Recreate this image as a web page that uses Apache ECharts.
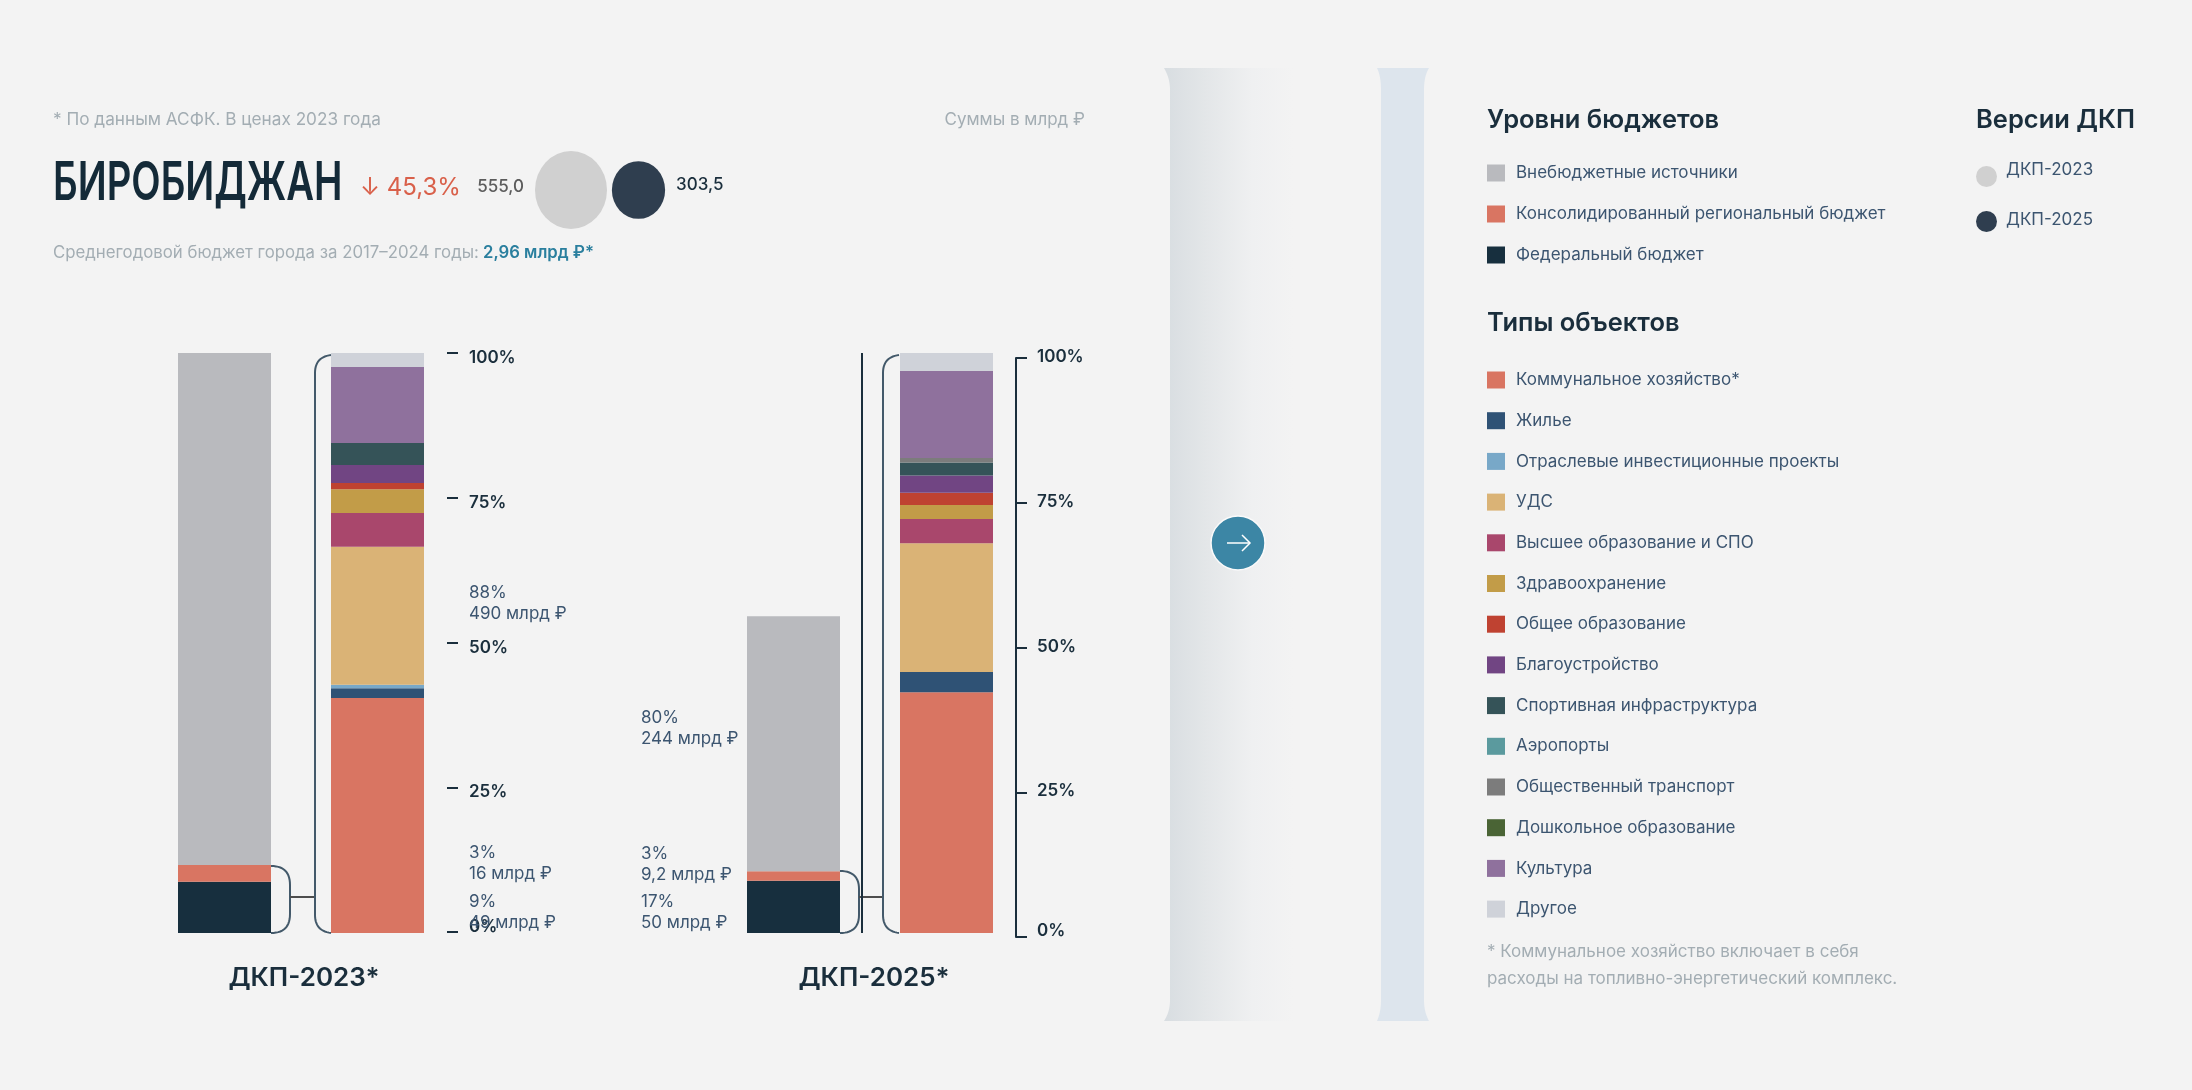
<!DOCTYPE html>
<html><head><meta charset="utf-8">
<script src="https://cdn.jsdelivr.net/npm/echarts@6/dist/echarts.min.js"></script>
<style>html,body{margin:0;padding:0;background:#f3f3f3}#c{width:2192px;height:1090px}</style></head>
<body><div id="c"></div><script>
const categories = ['Уровни бюджетов', 'Типы объектов'];
const levelNames = ['Федеральный бюджет', 'Консолидированный региональный бюджет', 'Внебюджетные источники'];
const levelColors = ['#172f3e', '#d97562', '#b9babe'];
const levels2023 = [49, 16, 490];
const levels2025 = [50, 9.2, 244];
const levelPct2023 = ['9%', '3%', '88%'];
const levelPct2025 = ['17%', '3%', '80%'];
const levelAmt2023 = ['49 млрд ₽', '16 млрд ₽', '490 млрд ₽'];
const levelAmt2025 = ['50 млрд ₽', '9,2 млрд ₽', '244 млрд ₽'];
const typeNames = ['Коммунальное хозяйство*', 'Жилье', 'Отраслевые инвестиционные проекты', 'УДС', 'Высшее образование и СПО', 'Здравоохранение', 'Общее образование', 'Благоустройство', 'Спортивная инфраструктура', 'Аэропорты', 'Общественный транспорт', 'Дошкольное образование', 'Культура', 'Другое'];
const typeColors = ['#d97562', '#2f5275', '#78a8c8', '#dab376', '#a9476c', '#c29c48', '#bf4231', '#714583', '#355358', '#5b9a9e', '#7c7c7c', '#4a6435', '#8f719d', '#cfd2d9'];
const types2023 = [40.5, 1.7, 0.6, 23.8, 5.8, 4.1, 1.1, 3.1, 3.8, 0, 0, 0, 13.1, 2.4];
const types2025 = [41.5, 3.5, 0, 22.2, 4.2, 2.4, 2.1, 3.0, 2.2, 0, 0.8, 0, 15.0, 3.1];
const versionNames = ['ДКП-2023', 'ДКП-2025'];
const versionTotals = [555.0, 303.5];
const versionColors = ['#d0d0d0', '#2f3e4f'];
const versionLabels = ['555,0', '303,5'];

const F = 'Inter, Roboto, sans-serif';
const DARK = '#1a2e3c', GREY = '#a3adb3', LBL = '#3c5570', BG = '#f3f3f3';

const levelLabelOffset = [[0, 5], [0, -10], [0, -6]];
const levelLabelOffset25 = [[0, 6], [0, -12], [0, -15]];
function levelSeries(vals, pct, amt, idx, distance, pos, offs) {
  return vals.map((v, i) => ({
    name: levelNames[i], type: 'bar', stack: 'levels' + idx, xAxisIndex: idx, yAxisIndex: idx * 2,
    barWidth: 93, barGap: '-100%', itemStyle: { color: levelColors[i] }, silent: true,
    data: [v, '-'],
    label: { show: true, position: pos, distance, align: 'left', offset: offs[i], color: LBL,
      fontFamily: F, fontSize: 17, lineHeight: 21, formatter: () => pct[i] + '\n' + amt[i] }
  }));
}
function typeSeries(vals, idx) {
  return vals.map((v, i) => ({
    name: typeNames[i], type: 'bar', stack: 'types' + idx, xAxisIndex: idx, yAxisIndex: idx * 2 + 1,
    barWidth: 93, barGap: '-100%', itemStyle: { color: typeColors[i] }, silent: true, data: ['-', v]
  }));
}
const hiddenX = (gridIndex, data) => ({ type: 'category', gridIndex, data: data || categories, show: false });
const barY = (gridIndex, max) => ({ type: 'value', gridIndex, min: 0, max, show: false });
const tickFont = { color: DARK, fontFamily: F, fontWeight: 600, fontSize: 17 };
const pctAxis = (gridIndex, line, labelExtra) => ({
  type: 'value', gridIndex, position: 'right', min: 0, max: 100, interval: 25, splitLine: { show: false },
  axisLine: { show: line, lineStyle: { color: DARK, width: 2 } },
  axisTick: { show: true, length: 11, lineStyle: { color: DARK, width: 2 } },
  axisLabel: Object.assign({}, tickFont, labelExtra)
});

const scatter = versionNames.map((n, i) => {
  const k = Math.sqrt(versionTotals[i] / versionTotals[0]);
  return {
    name: n, type: 'scatter', xAxisIndex: 4, yAxisIndex: 6, silent: true,
    symbol: 'circle', symbolSize: [72 * k, 78 * k], itemStyle: { color: versionColors[i], opacity: 1 },
    data: [[n, 0]],
    label: { show: true, position: i ? 'right' : 'left', distance: 11, offset: i ? [0, -5] : [0, -3], color: i ? DARK : '#5c5c5c',
      fontFamily: F, fontWeight: 500, fontSize: 17, formatter: () => versionLabels[i] }
  };
});

// Flatten a small M/L/Q outline into points for the graphic component.
function outline(d) {
  const out = []; let cur = null, p = null;
  d.replace(/([MLQ])([^MLQ]*)/g, (_, c, a) => {
    const n = a.trim().split(/[\s,]+/).map(Number);
    if (c === 'M') { cur = [[n[0], n[1]]]; out.push(cur); p = [n[0], n[1]]; }
    else if (c === 'L') { cur.push([n[0], n[1]]); p = [n[0], n[1]]; }
    else { for (let t = 1; t <= 14; t++) { const s = t / 14, r = 1 - s;
        cur.push([r * r * p[0] + 2 * r * s * n[0] + s * s * n[2], r * r * p[1] + 2 * r * s * n[1] + s * s * n[3]]); }
      p = [n[2], n[3]]; }
    return '';
  });
  return out;
}
const txt = (x, y, text, o, extra) => Object.assign({ type: 'text', x, y, silent: true,
  style: Object.assign({ text, fill: DARK, font: '500 17px ' + F, verticalAlign: 'middle' }, o) }, extra);
const stroke = (d, color, w) => outline(d).map((points) => ({ type: 'polyline', silent: true, shape: { points },
  style: { fill: null, stroke: color, lineWidth: w || 2 } }));
const fillShape = (d, fill) => ({ type: 'polygon', silent: true, shape: { points: outline(d)[0] }, style: { fill } });
const BR = '#43596a';

const graphic = [
  fillShape('M1164,68 L1300,68 L1300,1021 L1164,1021 Q1170,1012 1170,1000 L1170,90 Q1170,78 1164,68',
    { type: 'linear', x: 0, y: 0, x2: 1, y2: 0, colorStops: [{ offset: 0, color: '#d8dde1' }, { offset: 0.3, color: '#e3e6e8' }, { offset: 0.65, color: '#eff0f1' }, { offset: 0.95, color: BG }] }),
  fillShape('M1377,68 L1429,68 Q1424,76 1424,90 L1424,1000 Q1424,1012 1429,1021 L1377,1021 Q1381,1012 1381,1000 L1381,90 Q1381,76 1377,68', '#dde5ed'),
  { type: 'circle', silent: true, shape: { cx: 1238, cy: 543, r: 27 }, style: { fill: '#3c86a5', stroke: '#fafafa', lineWidth: 1.5 } },
  ...stroke('M1227,543 L1250,543 M1242,535 L1250,543 L1242,551', '#fff', 1.5),

  txt(53, 120, '* По данным АСФК. В ценах 2023 года', { fill: GREY, font: '400 17.2px ' + F }),
  txt(1085, 120, 'Суммы в млрд ₽', { fill: GREY, font: '400 17px ' + F, align: 'right' }),
  txt(53, 184, 'БИРОБИДЖАН', { fill: '#142a38', font: '600 54px ' + F }, { scaleX: 0.707 }),
  txt(360, 188, '↓ 45,3%', { fill: '#d9604a', font: '400 24px ' + F }),
  txt(53, 253, 'Среднегодовой бюджет города за 2017–2024 годы:', { fill: GREY, font: '400 16.8px ' + F }),
  txt(483, 253, '2,96 млрд ₽*', { fill: '#2a7f9e', font: '600 16.7px ' + F }),

  txt(304, 978, 'ДКП-2023*', { font: '600 26px ' + F, align: 'center' }),
  txt(874, 978, 'ДКП-2025*', { font: '600 26px ' + F, align: 'center' }),

  ...stroke('M271,866 Q290,866 290,885 L290,914 Q290,933 271,933', BR),
  ...stroke('M290,897 L315,897', '#4d4d4d'),
  ...stroke('M331,355 Q315,357 315,373 L315,915 Q315,931 331,933', BR),
  ...stroke('M840,871 Q859,871 859,889 L859,915 Q859,933 840,933', BR),
  ...stroke('M859,897 L883,897', '#4d4d4d'),
  ...stroke('M899,355 Q883,357 883,373 L883,915 Q883,931 899,933', BR),
  ...stroke('M862,353 L862,933', DARK),

  txt(1487, 120, 'Уровни бюджетов', { font: '600 25.5px ' + F }),
  txt(1976, 120, 'Версии ДКП', { font: '600 25.5px ' + F }),
  txt(1487, 323, 'Типы объектов', { font: '600 25.5px ' + F }),
  txt(1487, 952, '* Коммунальное хозяйство включает в себя', { fill: GREY, font: '400 17px ' + F }),
  txt(1487, 979, 'расходы на топливно-энергетический комплекс.', { fill: GREY, font: '400 17px ' + F })
];

const legendText = { color: LBL, fontFamily: F, fontSize: 17, padding: [0, 0, 4, 6] };
const option = {
  backgroundColor: BG, animation: false, tooltip: { show: false },
  grid: [
    { left: 148, width: 306, top: 353, height: 580 },
    { left: 717, width: 306, top: 353, height: 580 },
    { left: 440, width: 7, top: 353, height: 579 },
    { left: 1009, width: 7, top: 358, height: 579 },
    { left: 571, width: 67.5, top: 189, height: 1 }
  ],
  xAxis: [hiddenX(0), hiddenX(1), hiddenX(2), hiddenX(3),
    Object.assign(hiddenX(4, versionNames), { boundaryGap: false })],
  yAxis: [barY(0, versionTotals[0]), barY(0, 100), barY(1, versionTotals[0]), barY(1, 100),
    pctAxis(2, false, { margin: 22, verticalAlign: 'top', verticalAlignMinLabel: 'bottom', lineHeight: 10, formatter: '{value}%' }),
    pctAxis(3, true, { margin: 21, verticalAlign: 'bottom', formatter: (v) => v === 0 ? `{z|${v}%}` : `{v|${v}%}`,
      rich: { v: Object.assign({ lineHeight: 2 }, tickFont), z: Object.assign({ lineHeight: 12 }, tickFont) } }),
    barY(4, 1)],
  legend: [
    { orient: 'vertical', left: 1487, top: 164.5, padding: 0, itemWidth: 18, itemHeight: 17, itemGap: 24, icon: 'rect', selectedMode: false, itemStyle: { borderWidth: 0 },
      data: [levelNames[2], levelNames[1], levelNames[0]], textStyle: legendText },
    { orient: 'vertical', left: 1487, top: 371.5, padding: 0, itemWidth: 18, itemHeight: 17, itemGap: 23.7, icon: 'rect', selectedMode: false, itemStyle: { borderWidth: 0 },
      data: typeNames.map((n) => n), textStyle: legendText },
    { orient: 'vertical', left: 1976, top: 161, padding: 0, itemWidth: 21, itemHeight: 21, itemGap: 24, icon: 'circle', selectedMode: false,
      data: versionNames, formatter: (n) => n === versionNames[0] ? `{a|${n}}` : `{b|${n}}`,
      textStyle: { color: LBL, fontFamily: F, fontSize: 17, padding: [0, 0, 0, 4],
        rich: { a: { color: LBL, fontFamily: F, fontSize: 17, padding: [0, 0, 14, 0] }, b: { color: LBL, fontFamily: F, fontSize: 17, padding: [0, 0, 4, 0] } } } }
  ],
  series: [
    ...levelSeries(levels2023, levelPct2023, levelAmt2023, 0, 198, 'right', levelLabelOffset),
    ...typeSeries(types2023, 0),
    ...levelSeries(levels2025, levelPct2025, levelAmt2025, 1, 106, 'left', levelLabelOffset25),
    ...typeSeries(types2025, 1),
    ...scatter
  ],
  graphic: { elements: graphic }
};
const chart = echarts.init(document.getElementById('c'), null, { renderer: 'canvas' });
chart.setOption(option);
</script></body></html>
